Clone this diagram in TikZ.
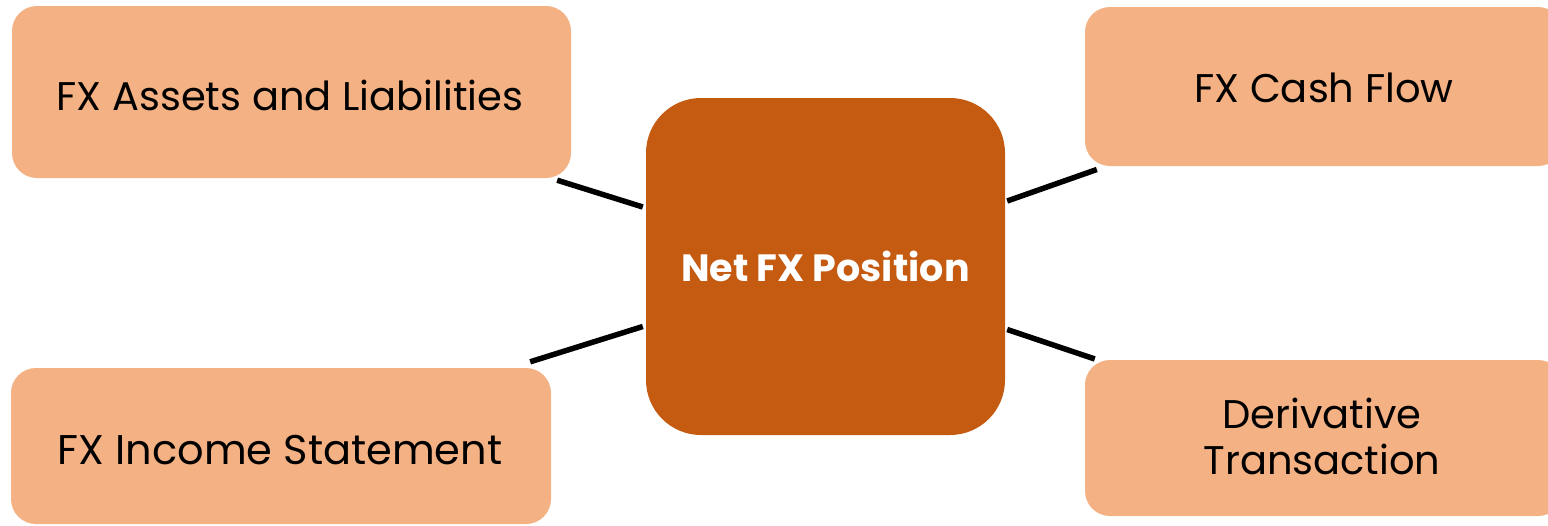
\documentclass[tikz,border=0pt]{standalone}
\usepackage{fontspec}
\setmainfont{Poppins}
\usetikzlibrary{calc}
\definecolor{peach}{HTML}{F4B183}
\definecolor{rust}{HTML}{C55A11}
\tikzset{
  x=1pt, y=-1pt,
  side/.style={fill=peach, draw=none, rounded corners=25pt, inner sep=0pt,
    font=\fontsize{40}{48}\selectfont, align=center, text=black},
  hub/.style={fill=rust, draw=none, rounded corners=55pt, inner sep=0pt,
    minimum width=359pt, minimum height=337pt,
    font=\fontsize{38}{46}\selectfont\bfseries, text=white},
  label/.style={font=\fontsize{40}{48}\selectfont, align=center, inner sep=0pt},
  link/.style={draw=black, line width=5.5pt}
}
\begin{document}
\begin{tikzpicture}
\useasboundingbox (0,0) rectangle (1548,525);
\fill[white] (0,0) rectangle (1548,525);

\node[hub] (c) at (825.5,266.5) {Net FX Position};

\node[side, minimum width=559pt, minimum height=172pt] (tl) at (291.5,92) {};
\node[side, minimum width=540pt, minimum height=156pt] (bl) at (281,446) {};
\node[side, minimum width=478pt, minimum height=159pt] (tr) at (1324,86.5) {};
\node[side, minimum width=478pt, minimum height=156pt] (br) at (1324,438) {};

\node[label] (tlt) at (290,95) {FX Assets and Liabilities};
\node[label, font=\fontsize{41.5}{48}\selectfont] (blt) at (280,450) {FX Income Statement};
\node[label] (trt) at (1324,88) {FX Cash Flow};
\node[label] (brt) at (1322,436) {Derivative\\[-2pt]Transaction};

% connector end points, just off the box edges
\coordinate (a1) at ($(tl.south east)+(-14,2)$);
\coordinate (a2) at ($(c.west)+(-3,-59.5)$);
\coordinate (b1) at ($(c.west)+(-3,60)$);
\coordinate (b2) at ($(bl.north east)+(-21,-6)$);
\coordinate (c1) at ($(c.east)+(2,-65.5)$);
\coordinate (c2) at ($(tr.west)+(12,83)$);
\coordinate (d1) at ($(c.east)+(2,63)$);
\coordinate (d2) at ($(br.west)+(10,-79)$);

\draw[link] (a1) -- (a2);
\draw[link] (b1) -- (b2);
\draw[link] (c1) -- (c2);
\draw[link] (d1) -- (d2);
\end{tikzpicture}
\end{document}
